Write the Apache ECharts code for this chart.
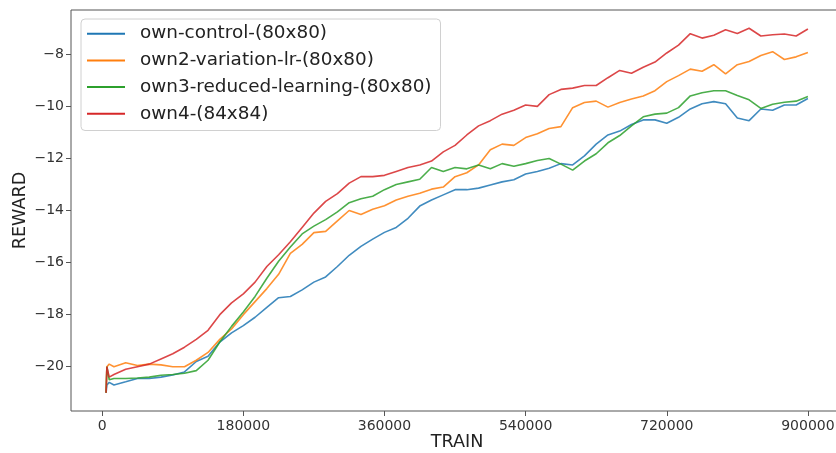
<!DOCTYPE html>
<html>
<head>
<meta charset="utf-8">
<style>
  html, body { margin: 0; padding: 0; background: #fff; }
  #chart { width: 836px; height: 453px; }
</style>
<script src="https://cdn.jsdelivr.net/npm/echarts@6/dist/echarts.min.js"></script>
</head>
<body>
<div id="chart"></div>
<script>
// Training steps shared by all runs
const steps = [
  5000, 6000, 9000,
  15000, 30000, 45000, 60000, 75000, 90000, 105000, 120000, 135000, 150000,
  165000, 180000, 195000, 210000, 225000, 240000, 255000, 270000, 285000, 300000,
  315000, 330000, 345000, 360000, 375000, 390000, 405000, 420000, 435000, 450000,
  465000, 480000, 495000, 510000, 525000, 540000, 555000, 570000, 585000, 600000,
  615000, 630000, 645000, 660000, 675000, 690000, 705000, 720000, 735000, 750000,
  765000, 780000, 795000, 810000, 825000, 840000, 855000, 870000, 885000, 900000
];

// Smoothed episode reward per run
const ownControl = [
  -21.0, -20.7, -20.6,
  -20.7, -20.58, -20.45, -20.45, -20.4, -20.32, -20.2, -19.8, -19.6, -19.05,
  -18.7, -18.42, -18.1, -17.72, -17.35, -17.3, -17.05, -16.75, -16.55, -16.15,
  -15.72, -15.38, -15.1, -14.84, -14.65, -14.3, -13.83, -13.6, -13.4, -13.2,
  -13.2, -13.14, -13.02, -12.9, -12.82, -12.6, -12.5, -12.38, -12.2, -12.25,
  -11.9, -11.45, -11.1, -10.95, -10.7, -10.52, -10.52, -10.65, -10.42, -10.1,
  -9.9, -9.82, -9.9, -10.45, -10.55, -10.1, -10.15, -9.95, -9.95, -9.7
];
const own2VariationLr = [
  -21.0, -20.0, -19.9,
  -20.0, -19.85, -19.95, -19.9, -19.93, -20.0, -20.0, -19.75, -19.45, -18.95,
  -18.55, -18.0, -17.5, -17.0, -16.45, -15.65, -15.3, -14.85, -14.8, -14.4,
  -14.0, -14.15, -13.95, -13.82, -13.6, -13.45, -13.34, -13.18, -13.1, -12.7,
  -12.55, -12.25, -11.67, -11.45, -11.5, -11.2, -11.05, -10.85, -10.78, -10.05,
  -9.85, -9.8, -10.03, -9.85, -9.72, -9.6, -9.4, -9.05, -8.82, -8.57,
  -8.65, -8.4, -8.75, -8.4, -8.28, -8.05, -7.9, -8.2, -8.1, -7.93
];
const own3ReducedLearning = [
  -21.0, -20.0, -20.5,
  -20.45, -20.45, -20.43, -20.4, -20.33, -20.3, -20.25, -20.15, -19.75, -19.05,
  -18.45, -17.9, -17.3, -16.6, -15.95, -15.4, -14.9, -14.6, -14.35, -14.05,
  -13.7, -13.55, -13.45, -13.2, -13.0, -12.9, -12.8, -12.35, -12.5, -12.35,
  -12.4, -12.25, -12.4, -12.2, -12.3, -12.2, -12.08, -12.0, -12.22, -12.45,
  -12.1, -11.82, -11.4, -11.12, -10.75, -10.4, -10.3, -10.26, -10.05, -9.6,
  -9.48, -9.4, -9.4, -9.58, -9.75, -10.08, -9.92, -9.84, -9.8, -9.62
];
const own4 = [
  -21.0, -20.0, -20.4,
  -20.3, -20.1, -20.0, -19.9, -19.7, -19.5, -19.25, -18.95, -18.6, -18.0,
  -17.55, -17.2, -16.75, -16.15, -15.7, -15.2, -14.65, -14.1, -13.65, -13.35,
  -12.95, -12.7, -12.7, -12.65, -12.5, -12.35, -12.25, -12.1, -11.75, -11.5,
  -11.1, -10.75, -10.55, -10.3, -10.15, -9.95, -10.0, -9.55, -9.35, -9.3,
  -9.2, -9.2, -8.9, -8.62, -8.73, -8.5, -8.3, -7.95, -7.65, -7.21,
  -7.38, -7.27, -7.06, -7.2, -7.0, -7.3, -7.25, -7.22, -7.3, -7.03
];

const seriesNames = [
  'own-control-(80x80)',
  'own2-variation-lr-(80x80)',
  'own3-reduced-learning-(80x80)',
  'own4-(84x84)'
];
const seriesValues = [ownControl, own2VariationLr, own3ReducedLearning, own4];
const seriesColors = ['#1f77b4', '#ff7f0e', '#2ca02c', '#d62728'];

const xTicks = [0, 180000, 360000, 540000, 720000, 900000];
const yTicks = [-20, -18, -16, -14, -12, -10, -8];

const FONT = '"DejaVu Sans", sans-serif';
const minus = v => (v < 0 ? '\u2212' + Math.abs(v) : String(v));

const chart = echarts.init(document.getElementById('chart'), null, { renderer: 'canvas' });

chart.setOption({
  animation: false,
  backgroundColor: '#fff',
  grid: {
    left: 71, top: 10, width: 772, height: 401,
    outerBoundsMode: 'none',
    containLabel: false,
    show: true, borderColor: '#555', borderWidth: 1, backgroundColor: 'transparent'
  },
  legend: {
    left: 81, top: 19,
    orient: 'vertical',
    icon: 'rect',
    itemWidth: 38, itemHeight: 2,
    itemGap: 8.3,
    padding: [5.5, 9, 7.5, 6],
    backgroundColor: 'rgba(255,255,255,0.8)',
    borderColor: '#d0d0d0', borderWidth: 1, borderRadius: 4,
    textStyle: { fontFamily: FONT, fontSize: 18.4, color: '#222', lineHeight: 18.4, padding: [0, 0, 0, 10] },
    data: seriesNames
  },
  xAxis: {
    type: 'value',
    min: -39750, max: 944750,
    name: 'TRAIN', nameLocation: 'middle', nameGap: 22, nameMoveOverlap: false,
    nameTextStyle: { fontFamily: FONT, fontSize: 17.6, color: '#222' },
    axisLine: { show: false, onZero: false },
    splitLine: { show: false },
    axisTick: { show: true, length: 5, lineStyle: { color: '#555' }, customValues: xTicks },
    axisLabel: { fontFamily: FONT, fontSize: 14, color: '#333', margin: 8, customValues: xTicks, formatter: v => String(v) }
  },
  yAxis: {
    type: 'value',
    min: -21.7, max: -6.3,
    name: 'REWARD', nameLocation: 'middle', nameGap: 42, nameMoveOverlap: false,
    nameTextStyle: { fontFamily: FONT, fontSize: 17.6, color: '#222' },
    axisLine: { show: false, onZero: false },
    splitLine: { show: false },
    axisTick: { show: true, length: 5, lineStyle: { color: '#555' }, customValues: yTicks },
    axisLabel: { fontFamily: FONT, fontSize: 14, color: '#333', margin: 7, customValues: yTicks, formatter: minus }
  },
  series: seriesNames.map((name, k) => ({
    name,
    type: 'line',
    symbol: 'none',
    showSymbol: false,
    color: seriesColors[k],
    lineStyle: { width: 1.6, color: seriesColors[k], opacity: 0.85 },
    data: steps.map((s, i) => [s, seriesValues[k][i]])
  }))
});
</script>
</body>
</html>
